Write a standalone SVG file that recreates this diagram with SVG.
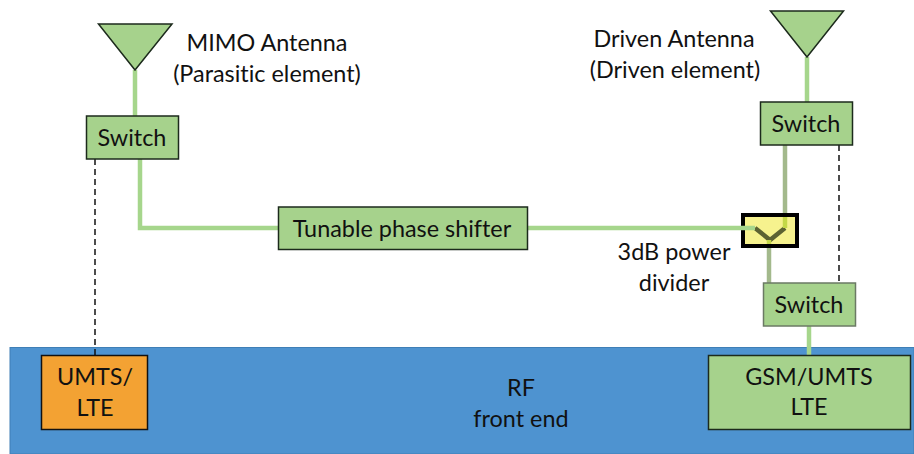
<svg xmlns="http://www.w3.org/2000/svg" width="914" height="454" viewBox="0 0 914 454">
<style>
text{font-family:Lato,"Liberation Sans",sans-serif;font-size:23.400px;fill:#111;text-anchor:middle;font-variant-ligatures:none}
.box{fill:#a6d28c;stroke:#1c2a1c;stroke-width:1.5}
.wire{fill:none;stroke:#a6d68c;stroke-width:4.5}
.dash{fill:none;stroke:#111;stroke-width:1.5;stroke-dasharray:6 4}
</style>
<rect id="rf-band" x="10" y="347.500" width="904" height="106.500" fill="#4e93d0" stroke="#3f7fb6" stroke-width="1"/>
<text x="521" y="396">RF</text>
<text x="521" y="427">front end</text>
<g id="divider-fill"><rect x="743" y="215" width="54" height="31" fill="#f6f28e"/></g>
<g id="connectors">
<path class="dash" d="M95 159V355"/>
<path class="dash" d="M839 145V282"/>
<path class="wire" d="M135 70V116"/>
<path class="wire" d="M140 159V228H278"/>
<path class="wire" d="M807 57V102"/>
<path class="wire" d="M809 326V356"/>
<g fill="none" stroke-width="4.500">
<path d="M755 228L770 240L785 228" stroke="#5c6232"/>
<path d="M785 145V214" stroke="#a3b98c"/>
<path d="M785 214V228" stroke="#c4d848"/>
<path d="M769 240V247" stroke="#c4d848"/>
<path d="M769 247V285" stroke="#a3b98c"/>
</g>
</g>
<g id="divider"><rect x="743" y="215" width="54" height="31" fill="none" stroke="#000" stroke-width="4"/></g>
<path id="input-wire" class="wire" d="M527 228H755"/>
<g id="antenna-left"><path class="box" d="M98.500 24H172L135 70Z"/></g>
<g id="antenna-right"><path class="box" d="M770.500 11H843.500L807 57Z"/></g>
<text x="267" y="51">MIMO Antenna</text>
<text x="267" y="82">(Parasitic element)</text>
<text x="674" y="47">Driven Antenna</text>
<text x="675" y="78">(Driven element)</text>
<g id="switch-left"><rect class="box" x="86.500" y="116" width="92" height="43"/><text x="132" y="146">Switch</text></g>
<g id="phase-shifter"><rect class="box" x="278.500" y="207" width="249" height="42.500"/><text x="402" y="237">Tunable phase shifter</text></g>
<g id="switch-right-top"><rect class="box" x="760.500" y="102" width="92" height="43"/><text x="806" y="132">Switch</text></g>
<text x="674" y="260">3dB power</text>
<text x="674" y="291">divider</text>
<g id="switch-right-bottom"><rect class="box" x="763.500" y="283" width="92" height="43" style="stroke:#6b7a64"/><text x="809" y="313">Switch</text></g>
<g id="umts-lte"><rect x="41.500" y="355.500" width="106" height="74" fill="#f3a233" stroke="#111" stroke-width="1.500"/><text x="95" y="385">UMTS/</text><text x="95" y="416">LTE</text></g>
<g id="gsm-umts-lte"><rect class="box" x="708.500" y="355.500" width="202" height="74"/><text x="809" y="385">GSM/UMTS</text><text x="809" y="415">LTE</text></g>
</svg>
